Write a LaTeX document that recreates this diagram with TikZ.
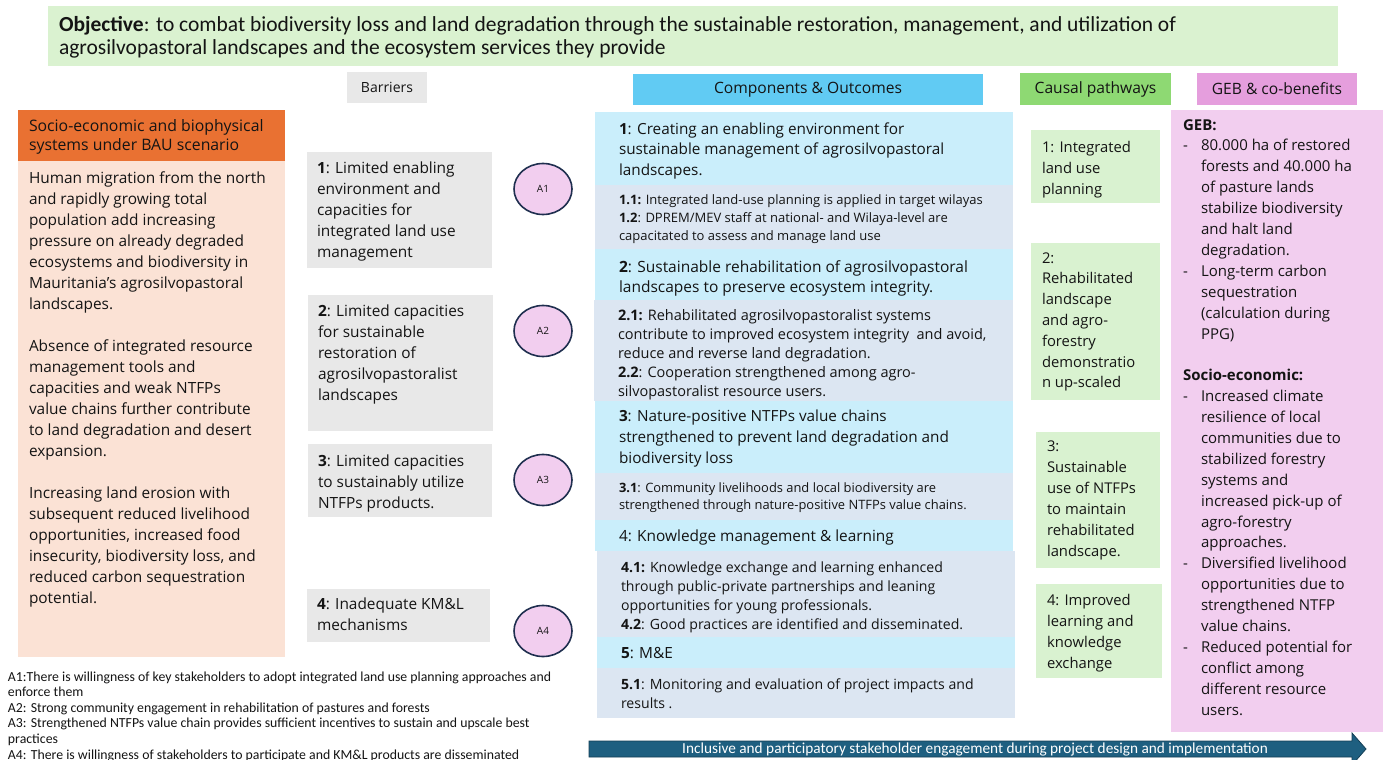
\documentclass[tikz,border=0pt]{standalone}
\usepackage{fontspec}
\setmainfont{Open Sans}
\newfontfamily\narrowfont{Carlito}
\usetikzlibrary{shapes.geometric}

\definecolor{objgreen}{HTML}{DAF2D0}
\definecolor{bauorange}{HTML}{E97132}
\definecolor{baupeach}{HTML}{FBE2D5}
\definecolor{bargray}{HTML}{E8E8E8}
\definecolor{compcyan}{HTML}{61CBF3}
\definecolor{comphead}{HTML}{CAEEFB}
\definecolor{compout}{HTML}{DCE6F2}
\definecolor{pathgreen}{HTML}{8ED973}
\definecolor{pathlight}{HTML}{D9F2D0}
\definecolor{gebhead}{HTML}{E59EDD}
\definecolor{geblight}{HTML}{F2CEEF}
\definecolor{assumnavy}{HTML}{1F2F4F}
\definecolor{arrowblue}{HTML}{1E5F80}
\definecolor{arrowedge}{HTML}{143F55}
\definecolor{textdark}{HTML}{141414}

% a block of text lines: size, line spacing, lines
\newcommand{\txtlines}[3]{\parbox[t]{1300pt}{\fontsize{#1}{#2}\selectfont\raggedright #3}}
% filled panel: name, x1, y1, x2, y2, colour
\newcommand{\panelbox}[6]{\node[panel, fill=#6, minimum width={#4-#2}, minimum height={#5-#3}] (#1) at (#2,#3) {};}
\newcommand{\ind}{\hspace*{18pt}}
\newcommand{\dash}{\makebox[18pt][l]{-}}

\tikzset{
  panel/.style={rectangle, anchor=north west, inner sep=0pt, outer sep=0pt, draw=none},
  txt/.style={anchor=base west, inner sep=0pt, outer sep=0pt, text=textdark},
  headtxt/.style={inner sep=0pt, text=textdark, font=\fontsize{15.6}{18}\selectfont},
  assumption/.style={ellipse, draw=assumnavy, line width=1.6pt, fill=geblight,
    minimum width=58pt, minimum height=51pt, inner sep=0pt,
    font=\fontsize{10}{12}\selectfont, text=textdark},
}

\begin{document}
\begin{tikzpicture}[x=1pt, y=-1pt]
\useasboundingbox[fill=white] (0,0) rectangle (1387,760);

% ---------------- objective banner
\panelbox{obj}{48}{6}{1338}{66}{objgreen}
\node[txt] (obj-t) at (59,32) {\narrowfont\txtlines{21.5}{23}{\textbf{Objective}: to combat biodiversity loss and land degradation through the sustainable restoration, management, and utilization of\\agrosilvopastoral landscapes and the ecosystem services they provide}};

% ---------------- business-as-usual column
\panelbox{bauhead}{18}{110}{285}{161}{bauorange}
\panelbox{baubody}{18}{161}{285}{657}{baupeach}
\node[txt] (bauhead-t) at (29,131) {\txtlines{15.8}{20}{Socio-economic and biophysical\\systems under BAU scenario}};
\node[txt] (baubody-t) at (29,183) {\txtlines{15.4}{21}{Human migration from the north\\and rapidly growing total\\population add increasing\\pressure on already degraded\\ecosystems and biodiversity in\\Mauritania’s agrosilvopastoral\\landscapes.\\[21pt]Absence of integrated resource\\management tools and\\capacities and weak NTFPs\\value chains further contribute\\to land degradation and desert\\expansion.\\[21pt]Increasing land erosion with\\subsequent reduced livelihood\\opportunities, increased food\\insecurity, biodiversity loss, and\\reduced carbon sequestration\\potential.}};

% ---------------- barriers
\panelbox{barhead}{347}{72}{427}{103}{bargray}
\node[headtxt, font=\fontsize{14}{17}\selectfont] (barhead-t) at (barhead.center) {Barriers};

\panelbox{bar1}{307}{152}{492}{268}{bargray}
\panelbox{bar2}{308}{295}{493}{431}{bargray}
\panelbox{bar3}{308}{444}{492}{517}{bargray}
\panelbox{bar4}{307}{589}{490}{642}{bargray}
\node[txt] (bar1-t) at (317,173) {\txtlines{15.4}{21}{\textbf{1}: Limited enabling\\environment and\\capacities for\\integrated land use\\management}};
\node[txt] (bar2-t) at (318,316) {\txtlines{15.4}{21}{\textbf{2}: Limited capacities\\for sustainable\\restoration of\\agrosilvopastoralist\\landscapes}};
\node[txt] (bar3-t) at (318,466) {\txtlines{15.4}{21}{\textbf{3}: Limited capacities\\to sustainably utilize\\NTFPs products.}};
\node[txt] (bar4-t) at (317,609) {\txtlines{15.4}{21}{\textbf{4}: Inadequate KM\&L\\mechanisms}};

% ---------------- assumptions
\node[assumption] (a1) at (543,189) {A1};
\node[assumption] (a2) at (543,331) {A2};
\node[assumption] (a3) at (543,480) {A3};
\node[assumption] (a4) at (543,631) {A4};

% ---------------- components and outcomes
\panelbox{comphead}{633}{74}{983}{105}{compcyan}
\node[headtxt] (comphead-t) at (comphead.center) {Components \& Outcomes};

\panelbox{c1}{595}{112}{1013}{185}{comphead}
\panelbox{c1o}{595}{185}{1013}{249}{compout}
\panelbox{c2}{595}{249}{1013}{300}{comphead}
\panelbox{c2o}{594}{300}{1013}{401}{compout}
\panelbox{c3}{595}{401}{1013}{473}{comphead}
\panelbox{c3o}{595}{473}{1013}{520}{compout}
\panelbox{c4}{595}{520}{1013}{551}{comphead}
\panelbox{c4o}{597}{551}{1015}{637}{compout}
\panelbox{c5}{597}{637}{1015}{668}{comphead}
\panelbox{c5o}{597}{668}{1015}{718}{compout}

\node[txt] (c1-t) at (619,134) {\txtlines{15.3}{20.5}{\textbf{1}: Creating an enabling environment for\\sustainable management of agrosilvopastoral\\landscapes.}};
\node[txt] (c1o-t) at (619,204) {\txtlines{13}{18}{\textbf{1.1:} Integrated land-use planning is applied in target wilayas\\\textbf{1.2}: DPREM/MEV staff at national- and Wilaya-level are\\capacitated to assess and manage land use}};
\node[txt] (c2-t) at (619,272) {\txtlines{15.5}{20.5}{\textbf{2}: Sustainable rehabilitation of agrosilvopastoral\\landscapes to preserve ecosystem integrity.}};
\node[txt] (c2o-t) at (618,320) {\txtlines{14.5}{19}{\textbf{2.1:} Rehabilitated agrosilvopastoralist systems\\contribute to improved ecosystem integrity\ \ and avoid,\\reduce and reverse land degradation.\\\textbf{2.2}: Cooperation strengthened among agro-\\silvopastoralist resource users.}};
\node[txt] (c3-t) at (619,421) {\txtlines{15.3}{21}{\textbf{3}: Nature-positive NTFPs value chains\\strengthened to prevent land degradation and\\biodiversity loss}};
\node[txt] (c3o-t) at (619,492) {\txtlines{12.9}{17}{\textbf{3.1}: Community livelihoods and local biodiversity are\\strengthened through nature-positive NTFPs value chains.}};
\node[txt] (c4-t) at (619,541) {\txtlines{15.4}{20}{4: Knowledge management \& learning}};
\node[txt] (c4o-t) at (621,572) {\txtlines{14.1}{19}{\textbf{4.1:} Knowledge exchange and learning enhanced\\through public-private partnerships and leaning\\opportunities for young professionals.\\\textbf{4.2}: Good practices are identified and disseminated.}};
\node[txt] (c5-t) at (621,658) {\txtlines{15.4}{20}{\textbf{5}: M\&E}};
\node[txt] (c5o-t) at (621,689) {\txtlines{14.1}{19}{\textbf{5.1}: Monitoring and evaluation of project impacts and\\results .}};

% ---------------- causal pathways
\panelbox{pathhead}{1020}{73}{1171}{105}{pathgreen}
\node[headtxt] (pathhead-t) at (pathhead.center) {Causal pathways};

\panelbox{p1}{1031}{130}{1160}{203}{pathlight}
\panelbox{p2}{1031}{243}{1160}{400}{pathlight}
\panelbox{p3}{1036}{432}{1160}{568}{pathlight}
\panelbox{p4}{1036}{584}{1162}{678}{pathlight}
\node[txt] (p1-t) at (1042,152) {\txtlines{14.8}{21}{1: Integrated\\land use\\planning}};
\node[txt] (p2-t) at (1042,263) {\txtlines{14.8}{20.8}{2:\\Rehabilitated\\landscape\\and agro-\\forestry\\demonstratio\\n up-scaled}};
\node[txt] (p3-t) at (1047,451) {\txtlines{14.8}{21}{3:\\Sustainable\\use of NTFPs\\to maintain\\rehabilitated\\landscape.}};
\node[txt] (p4-t) at (1047,605) {\txtlines{14.8}{21}{4: Improved\\learning and\\knowledge\\exchange}};

% ---------------- global environmental benefits
\panelbox{gebhead}{1197}{73}{1357}{105}{gebhead}
\node[headtxt] (gebhead-t) at (gebhead.center) {GEB \& co-benefits};

\panelbox{geb}{1171}{110}{1383}{732}{geblight}
\node[txt] (geb-t) at (1183,130) {\txtlines{15}{20.9}{\textbf{GEB:}\\\dash 80.000 ha of restored\\\ind forests and 40.000 ha\\\ind of pasture lands\\\ind stabilize biodiversity\\\ind and halt land\\\ind degradation.\\\dash Long-term carbon\\\ind sequestration\\\ind (calculation during\\\ind PPG)\\[20.9pt]\textbf{Socio-economic:}\\\dash Increased climate\\\ind resilience of local\\\ind communities due to\\\ind stabilized forestry\\\ind systems and\\\ind increased pick-up of\\\ind agro-forestry\\\ind approaches.\\\dash Diversified livelihood\\\ind opportunities due to\\\ind strengthened NTFP\\\ind value chains.\\\dash Reduced potential for\\\ind conflict among\\\ind different resource\\\ind users.}};

% ---------------- assumption notes
\node[txt] (notes) at (8,681) {\narrowfont\txtlines{13.8}{15.6}{A1:There is willingness of key stakeholders to adopt integrated land use planning approaches and\\enforce them\\A2: Strong community engagement in rehabilitation of pastures and forests\\A3: Strengthened NTFPs value chain provides sufficient incentives to sustain and upscale best\\practices\\A4: There is willingness of stakeholders to participate and KM\&L products are disseminated}};

% ---------------- engagement arrow
\path[fill=arrowblue, draw=arrowedge, line width=0.8pt]
  (589,741) -- (1352,741) -- (1352,733) -- (1366,749) -- (1352,765) -- (1352,757) -- (589,757) -- cycle;
\node[inner sep=0pt, text=white, font=\narrowfont\fontsize{15.3}{16}\selectfont] (engage) at (975,749.5)
  {Inclusive and participatory stakeholder engagement during project design and implementation};
\end{tikzpicture}
\end{document}
